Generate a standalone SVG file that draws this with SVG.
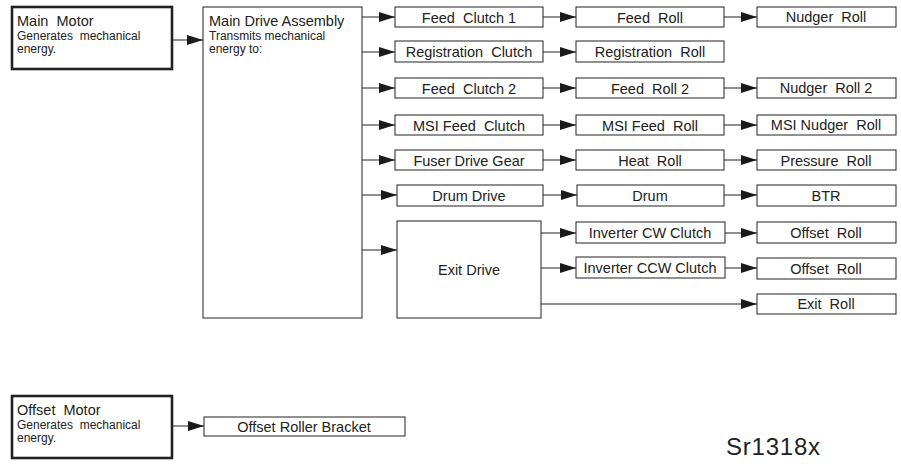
<svg xmlns="http://www.w3.org/2000/svg" width="901" height="464" viewBox="0 0 901 464">
<defs>
<marker id="ah" markerUnits="userSpaceOnUse" markerWidth="17" markerHeight="11" refX="16" refY="5" orient="auto">
<path d="M0,0 L16,5 L0,10 z" fill="#1a1a1a"/>
</marker>
<style>
.b{fill:#fff;stroke:#222;stroke-width:1}
.bt{fill:#fff;stroke:#222;stroke-width:2.6}
text{font-family:"Liberation Sans",Arial,sans-serif;fill:#222;white-space:pre}
.t{font-size:14.5px;text-anchor:middle}
.h{font-size:14.5px}
.s{font-size:12px}
.c{fill:none;stroke:#222;stroke-width:1;marker-end:url(#ah)}
</style>
</defs>
<rect width="901" height="464" fill="#fff"/>
<g id="connectors">
<line class="c" x1="172" y1="40" x2="203" y2="40"/>
<line class="c" x1="362" y1="17" x2="395" y2="17"/>
<line class="c" x1="362" y1="52" x2="395" y2="52"/>
<line class="c" x1="362" y1="88" x2="395" y2="88"/>
<line class="c" x1="362" y1="125" x2="395" y2="125"/>
<line class="c" x1="362" y1="160" x2="395" y2="160"/>
<line class="c" x1="362" y1="195" x2="397" y2="195"/>
<line class="c" x1="362" y1="250" x2="397" y2="250"/>
<line class="c" x1="543" y1="17" x2="576" y2="17"/>
<line class="c" x1="543" y1="52" x2="576" y2="52"/>
<line class="c" x1="543" y1="88" x2="576" y2="88"/>
<line class="c" x1="543" y1="125" x2="576" y2="125"/>
<line class="c" x1="543" y1="160" x2="576" y2="160"/>
<line class="c" x1="543" y1="195" x2="577" y2="195"/>
<line class="c" x1="724" y1="17" x2="757" y2="17"/>
<line class="c" x1="724" y1="88" x2="757" y2="88"/>
<line class="c" x1="724" y1="125" x2="757" y2="125"/>
<line class="c" x1="724" y1="160" x2="757" y2="160"/>
<line class="c" x1="724" y1="195" x2="757" y2="195"/>
<line class="c" x1="541" y1="233" x2="576" y2="233"/>
<line class="c" x1="541" y1="268" x2="576" y2="268"/>
<line class="c" x1="725" y1="233" x2="757" y2="233"/>
<line class="c" x1="725" y1="268" x2="757" y2="268"/>
<line class="c" x1="541" y1="304" x2="757" y2="304"/>
<line class="c" x1="172" y1="426" x2="204" y2="426"/>
</g>
<g id="main-motor">
<rect class="bt" x="12" y="7" width="160" height="62"/>
<text class="h" x="17" y="26">Main  Motor</text>
<text class="s" x="17" y="40">Generates  mechanical</text>
<text class="s" x="17" y="53">energy.</text>
</g>
<g id="main-drive">
<rect class="b" x="203" y="7" width="159" height="311"/>
<text class="h" x="209" y="26">Main Drive Assembly</text>
<text class="s" x="209" y="40">Transmits mechanical</text>
<text class="s" x="209" y="53">energy to:</text>
</g>
<g id="feed-clutch-1"><rect class="b" x="395" y="7" width="148" height="20"/><text class="t" x="469" y="22.5">Feed  Clutch 1</text></g>
<g id="feed-roll"><rect class="b" x="576" y="7" width="148" height="20"/><text class="t" x="650" y="22.5">Feed  Roll</text></g>
<g id="nudger-roll"><rect class="b" x="757" y="7" width="139" height="20"/><text class="t" x="826" y="21.5">Nudger  Roll</text></g>
<g id="registration-clutch"><rect class="b" x="395" y="41" width="148" height="21"/><text class="t" x="469" y="57">Registration  Clutch</text></g>
<g id="registration-roll"><rect class="b" x="576" y="41" width="148" height="21"/><text class="t" x="650" y="57">Registration  Roll</text></g>
<g id="feed-clutch-2"><rect class="b" x="395" y="78" width="148" height="20"/><text class="t" x="469" y="93.5">Feed  Clutch 2</text></g>
<g id="feed-roll-2"><rect class="b" x="576" y="78" width="148" height="20"/><text class="t" x="650" y="93.5">Feed  Roll 2</text></g>
<g id="nudger-roll-2"><rect class="b" x="757" y="78" width="139" height="20"/><text class="t" x="826" y="92.5">Nudger  Roll 2</text></g>
<g id="msi-feed-clutch"><rect class="b" x="395" y="115" width="148" height="20"/><text class="t" x="469" y="130.5">MSI Feed  Clutch</text></g>
<g id="msi-feed-roll"><rect class="b" x="576" y="115" width="148" height="20"/><text class="t" x="650" y="130.5">MSI Feed  Roll</text></g>
<g id="msi-nudger-roll"><rect class="b" x="757" y="115" width="139" height="20"/><text class="t" x="826" y="129.5">MSI Nudger  Roll</text></g>
<g id="fuser-drive-gear"><rect class="b" x="395" y="150" width="148" height="20"/><text class="t" x="469" y="165.5">Fuser Drive Gear</text></g>
<g id="heat-roll"><rect class="b" x="576" y="150" width="148" height="20"/><text class="t" x="650" y="165.5">Heat  Roll</text></g>
<g id="pressure-roll"><rect class="b" x="757" y="150" width="139" height="20"/><text class="t" x="826" y="165.5">Pressure  Roll</text></g>
<g id="drum-drive"><rect class="b" x="397" y="185" width="146" height="21"/><text class="t" x="469" y="201">Drum Drive</text></g>
<g id="drum"><rect class="b" x="577" y="185" width="147" height="21"/><text class="t" x="650" y="201">Drum</text></g>
<g id="btr"><rect class="b" x="757" y="185" width="139" height="21"/><text class="t" x="826" y="201">BTR</text></g>
<g id="exit-drive"><rect class="b" x="397" y="221" width="144" height="97"/><text class="t" x="469" y="275">Exit Drive</text></g>
<g id="inverter-cw-clutch"><rect class="b" x="576" y="222" width="149" height="21"/><text class="t" x="650" y="238">Inverter CW Clutch</text></g>
<g id="inverter-ccw-clutch"><rect class="b" x="576" y="257" width="149" height="21"/><text class="t" x="650" y="273">Inverter CCW Clutch</text></g>
<g id="offset-roll-1"><rect class="b" x="757" y="222" width="139" height="21"/><text class="t" x="826" y="238">Offset  Roll</text></g>
<g id="offset-roll-2"><rect class="b" x="757" y="258" width="139" height="21"/><text class="t" x="826" y="274">Offset  Roll</text></g>
<g id="exit-roll"><rect class="b" x="757" y="294" width="139" height="20"/><text class="t" x="826" y="309">Exit  Roll</text></g>
<g id="offset-motor">
<rect class="bt" x="12" y="396" width="160" height="62"/>
<text class="h" x="17" y="415">Offset  Motor</text>
<text class="s" x="17" y="429">Generates  mechanical</text>
<text class="s" x="17" y="442">energy.</text>
</g>
<g id="offset-roller-bracket"><rect class="b" x="204" y="417" width="201" height="19"/><text class="t" x="304" y="432">Offset Roller Bracket</text></g>
<text x="726" y="455" font-size="24" textLength="94">Sr1318x</text>
</svg>
